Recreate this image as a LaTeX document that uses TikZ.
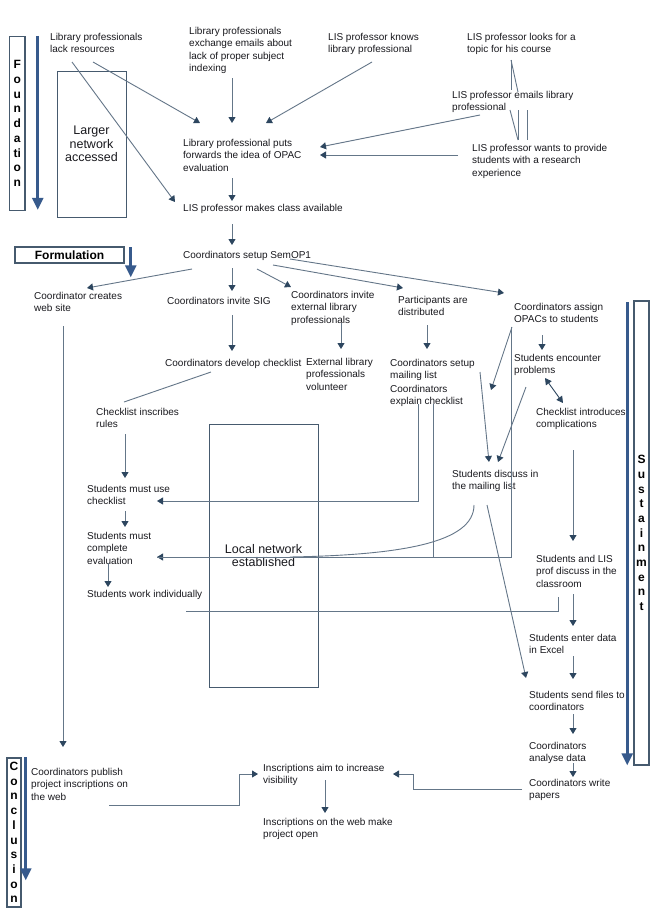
\documentclass[tikz,border=0pt]{standalone}
\usepackage{fontspec}
\setmainfont{Liberation Sans}
\usetikzlibrary{arrows.meta}
\definecolor{linec}{RGB}{100,118,136}
\definecolor{headc}{RGB}{45,70,95}
\definecolor{bigc}{RGB}{55,90,140}
\definecolor{boxc}{RGB}{70,90,110}
\definecolor{txtc}{RGB}{25,25,30}
\begin{document}
\begin{tikzpicture}[x=1pt,y=-1pt,
 txt/.style={anchor=north west,inner sep=0pt,align=left,text=txtc,font=\fontsize{10}{12.5}\selectfont},
 ln/.style={draw=linec,line width=0.9pt},
 arr/.style={ln,-{Triangle[length=6pt,width=7pt,color=headc]}},
 dbl/.style={draw=headc,line width=0.9pt,{Triangle[length=6.5pt,width=7pt]}-{Triangle[length=6.5pt,width=7pt]}},
 bigarr/.style={draw=bigc,line width=2.6pt,-{Triangle[length=12pt,width=11pt]}},
 phase/.style={draw=boxc,line width=1.5pt,inner sep=0pt,align=center,text=black,font=\fontsize{12}{14.7}\selectfont\bfseries},
 netbox/.style={draw=boxc,line width=0.9pt,inner sep=0pt,align=center,text=txtc,font=\fontsize{12.5}{13.5}\selectfont},
]
\useasboundingbox[fill=white] (0,0) rectangle (650,919);

% phase boxes
\node[phase,minimum width=15.5pt,minimum height=174pt] (fnd) at (17.25,123.5) {F\\o\\u\\n\\d\\a\\ti\\o\\n};
\node[phase,minimum width=109pt,minimum height=16pt] (frm) at (69.5,255) {Formulation};
\node[phase,minimum width=15pt,minimum height=464pt] (sus) at (641.5,533) {S\\u\\s\\t\\a\\i\\n\\m\\e\\n\\t};
\node[phase,minimum width=14pt,minimum height=149pt] (con) at (14,832.5) {C\\o\\n\\c\\l\\u\\s\\i\\o\\n};
\draw[bigarr] ([shift={(12,0)}]fnd.north east) -- ([shift={(12,174)}]fnd.north east);
\draw[bigarr] ([shift={(6,1)}]frm.north east) -- ([shift={(6,31)}]frm.north east);
\draw[bigarr] ([shift={(-6,2)}]sus.north west) -- ([shift={(-6,465)}]sus.north west);
\draw[bigarr] ([shift={(4,0)}]con.north east) -- ([shift={(4,123)}]con.north east);

% network boxes
\node[netbox,minimum width=69pt,minimum height=146pt] (lnet) at (91.5,144) {Larger\\network\\accessed};
\node[netbox,minimum width=109pt,minimum height=263pt] (locn) at (263.5,555.5) {Local network\\established};

% text nodes
\node[txt] (n1) at (50,33) {Library professionals\\lack resources};
\node[txt] (n2) at (189,27) {Library professionals\\exchange emails about\\lack of proper subject\\indexing};
\node[txt] (n3) at (328,33) {LIS professor knows\\library professional};
\node[txt] (n4) at (467,33) {LIS professor looks for a\\topic for his course};
\node[txt] (n5) at (452,91) {LIS professor emails library\\professional};
\node[txt] (n6) at (472,144) {LIS professor wants to provide\\students with a research\\experience};
\node[txt] (n7) at (183,139) {Library professional puts\\forwards the idea of OPAC\\evaluation};
\node[txt] (n8) at (183,204) {LIS professor makes class available};
\node[txt] (n9) at (183,251) {Coordinators setup SemOP1};
\node[txt] (n10) at (34,292) {Coordinator creates\\web site};
\node[txt] (n11) at (167,297) {Coordinators invite SIG};
\node[txt] (n12) at (291,291) {Coordinators invite\\external library\\professionals};
\node[txt] (n13) at (398,296) {Participants are\\distributed};
\node[txt] (n14) at (514,303) {Coordinators assign\\OPACs to students};
\node[txt] (n15) at (165,359) {Coordinators develop checklist};
\node[txt] (n16) at (306,358) {External library\\professionals\\volunteer};
\node[txt] (n17) at (390,359) {Coordinators setup\\mailing list};
\node[txt] (n18) at (390,385) {Coordinators\\explain checklist};
\node[txt] (n19) at (514,354) {Students encounter\\problems};
\node[txt] (n20) at (536,408) {Checklist introduces\\complications};
\node[txt] (n21) at (96,408) {Checklist inscribes\\rules};
\node[txt] (n22) at (87,485) {Students must use\\checklist};
\node[txt] (n23) at (87,532) {Students must\\complete\\evaluation};
\node[txt] (n24) at (87,590) {Students work individually};
\node[txt] (n26) at (452,470) {Students discuss in\\the mailing list};
\node[txt] (n27) at (536,555) {Students and LIS\\prof discuss in the\\classroom};
\node[txt] (n28) at (529,634) {Students enter data\\in Excel};
\node[txt] (n29) at (529,691) {Students send files to\\coordinators};
\node[txt] (n30) at (529,742) {Coordinators\\analyse data};
\node[txt] (n31) at (529,779) {Coordinators write\\papers};
\node[txt] (n32) at (31,768) {Coordinators publish\\project inscriptions on\\the web};
\node[txt] (n33) at (263,764) {Inscriptions aim to increase\\visibility};
\node[txt] (n34) at (263,818) {Inscriptions on the web make\\project open};
\coordinate (u1) at (491,390);

% connectors: foundation
\draw[arr] ([shift={(43,29)}]n1.north west) -- ([shift={(17,-16)}]n7.north west);
\draw[arr] ([shift={(22,29)}]n1.north west) -- ([shift={(-8,-2)}]n8.north west);
\draw[arr] ([shift={(43,51)}]n2.north west) -- ([shift={(49,-16)}]n7.north west);
\draw[arr] ([shift={(44,29)}]n3.north west) -- ([shift={(83,-16)}]n7.north west);
\draw[ln] ([shift={(44,27)}]n4.north west) -- ([shift={(59,-1)}]n5.north west);
\draw[ln] ([shift={(44,27)}]n4.north west) -- ([shift={(66,1)}]n5.north west);
\draw[ln] ([shift={(58,19)}]n5.north west) -- ([shift={(46,-4)}]n6.north west);
\draw[ln] ([shift={(66,19)}]n5.north west) -- ([shift={(46,-4)}]n6.north west);
\draw[ln] ([shift={(75,19)}]n5.north west) -- ([shift={(55,-4)}]n6.north west);
\draw[arr] ([shift={(28,24)}]n5.north west) -- ([shift={(137,8)}]n7.north west);
\draw[arr] ([shift={(-14,11)}]n6.north west) -- ([shift={(137,16)}]n7.north west);
\draw[arr] ([shift={(49,39)}]n7.north west) -- ([shift={(49,-3)}]n8.north west);
\draw[arr] ([shift={(49,20)}]n8.north west) -- ([shift={(49,-6)}]n9.north west);

% formulation
\draw[arr] ([shift={(9,18)}]n9.north west) -- ([shift={(53,-4)}]n10.north west);
\draw[arr] ([shift={(49,17)}]n9.north west) -- ([shift={(65,-6)}]n11.north west);
\draw[arr] ([shift={(74,18)}]n9.north west) -- ([shift={(0,-4)}]n12.north west);
\draw[arr] ([shift={(90,14)}]n9.north west) -- ([shift={(5,-8)}]n13.north west);
\draw[arr] ([shift={(107,8)}]n9.north west) -- ([shift={(-10,-10)}]n14.north west);
\draw[arr] ([shift={(65,18)}]n11.north west) -- ([shift={(67,-8)}]n15.north west);
\draw[ln] ([shift={(46,13)}]n15.north west) -- ([shift={(28,-6)}]n21.north west);
\draw[arr] ([shift={(50,32)}]n12.north west) -- ([shift={(35,-9)}]n16.north west);
\draw[arr] ([shift={(29,29)}]n13.north west) -- ([shift={(37,-10)}]n17.north west);
\draw[arr] ([shift={(-2,24)}]n14.north west) -- (u1);
\draw[arr] ([shift={(-3,24)}]n14.north west) |- ([shift={(70,25)}]n23.north west);
\draw[ln] ([shift={(43,19)}]n18.north west) |- ([shift={(70,25)}]n23.north west);
\draw[arr] ([shift={(28,19)}]n18.north west) |- ([shift={(70,16)}]n22.north west);
\draw[arr] ([shift={(90,13)}]n17.north west) -- ([shift={(37,-8)}]n26.north west);
\draw[arr] ([shift={(12,33)}]n19.north west) -- ([shift={(46,-8)}]n26.north west);
\draw[arr] ([shift={(28,32)}]n14.north west) -- ([shift={(28,-4)}]n19.north west);
\draw[dbl] ([shift={(31,24)}]n19.north west) -- ([shift={(27,-5)}]n20.north west);
\draw[ln] ([shift={(22,35)}]n26.north west) .. controls +(0,38) and +(110,-2) .. ([shift={(203,25)}]n23.north west);
\draw[arr] ([shift={(29,26)}]n21.north west) -- ([shift={(38,-7)}]n22.north west);
\draw[arr] ([shift={(38,26)}]n22.north west) -- ([shift={(38,-5)}]n23.north west);
\draw[arr] ([shift={(21,31)}]n23.north west) -- ([shift={(21,-3)}]n24.north west);

% sustainment
\draw[arr] ([shift={(37,42)}]n20.north west) -- ([shift={(37,-14)}]n27.north west);
\draw[ln] ([shift={(22,42)}]n27.north west) |- ([shift={(99,21)}]n24.north west);
\draw[arr] ([shift={(37,39)}]n27.north west) -- ([shift={(44,-8)}]n28.north west);
\draw[arr] ([shift={(35,35)}]n26.north west) -- ([shift={(-3,-13)}]n29.north west);
\draw[arr] ([shift={(44,22)}]n28.north west) -- ([shift={(44,-12)}]n29.north west);
\draw[arr] ([shift={(44,23)}]n29.north west) -- ([shift={(44,-8)}]n30.north west);
\draw[arr] ([shift={(44,21)}]n30.north west) -- ([shift={(44,-2)}]n31.north west);

% conclusion
\draw[arr] ([shift={(29,34)}]n10.north west) -- ([shift={(32,-21)}]n32.north west);
\draw[arr] ([shift={(-7,10)}]n31.north west) -| ([shift={(150,10)}]n33.north west) -- ([shift={(130,10)}]n33.north west);
\draw[arr] ([shift={(78,37)}]n32.north west) -| ([shift={(-24,10)}]n33.north west) -- ([shift={(-5,10)}]n33.north west);
\draw[arr] ([shift={(62,16)}]n33.north west) -- ([shift={(62,-5)}]n34.north west);
\end{tikzpicture}
\end{document}
